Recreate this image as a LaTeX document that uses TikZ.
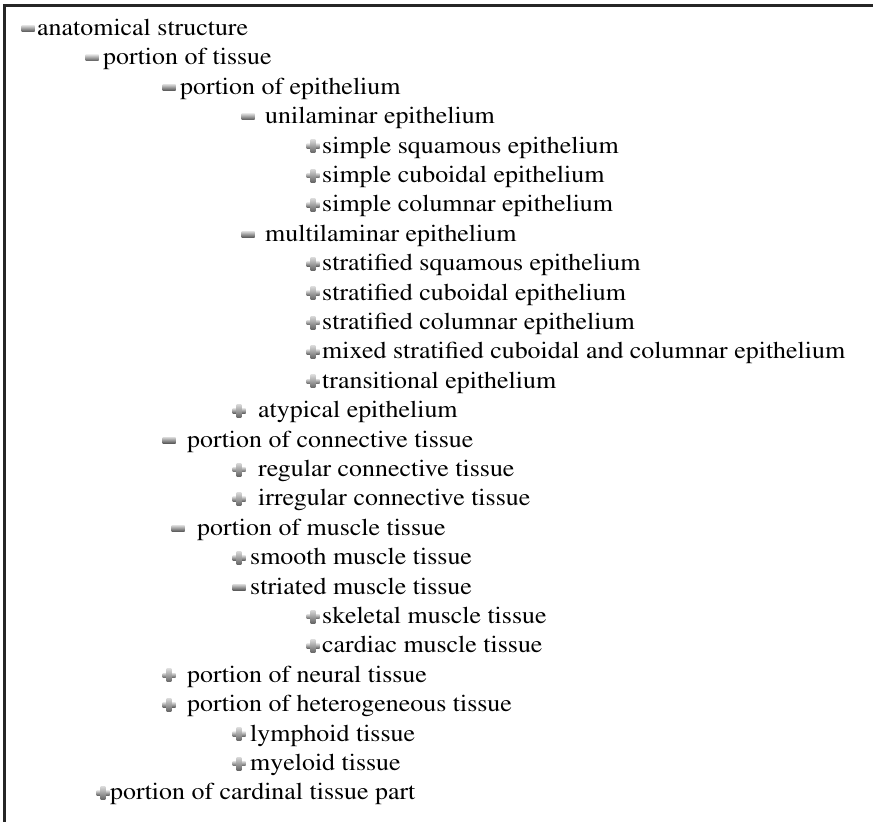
\documentclass[tikz,border=0pt]{standalone}
\usepackage[T1]{fontenc}
\usepackage{times}
\tikzset{
  lbl/.style={anchor=base west, inner sep=0pt, font=\rmfamily\fontsize{24}{28}\selectfont, xscale=1.08, transform shape},
  frameline/.style={line width=3pt, draw=black!85},
  pics/minusicon/.style={code={
    \shade[top color=gray!30, bottom color=black!65] (-6.5,-3) rectangle (6.5,3);}},
  pics/plusicon/.style={code={
    \shade[top color=gray!30, bottom color=black!60] (-6.5,-2.3) rectangle (6.5,2.3);
    \shade[top color=gray!30, bottom color=black!60] (-2.3,-6.5) rectangle (2.3,6.5);}}
}
\begin{document}
\begin{tikzpicture}[x=1pt,y=-1pt]
\useasboundingbox (0,0) rectangle (873,822);
\coordinate (tl) at (4,5);
\coordinate (tr) at (873,5);
\coordinate (bl) at (4,822);
\draw[frameline] (tr) -- (tl) -- (bl);
\foreach \i/\ix/\tx/\t/\s in {
 1/22/37/minus/anatomical structure,
 2/86/103/minus/portion of tissue,
 3/163/180/minus/portion of epithelium,
 4/242/265/minus/unilaminar epithelium,
 5/307/322/plus/simple squamous epithelium,
 6/307/322/plus/simple cuboidal epithelium,
 7/307/322/plus/simple columnar epithelium,
 8/242/265/minus/multilaminar epithelium,
 9/307/322/plus/stratified squamous epithelium,
 10/307/322/plus/stratified cuboidal epithelium,
 11/307/322/plus/stratified columnar epithelium,
 12/307/322/plus/mixed stratified cuboidal and columnar epithelium,
 13/307/322/plus/transitional epithelium,
 14/233/258/plus/atypical epithelium,
 15/163/187/minus/portion of connective tissue,
 16/233/258/plus/regular connective tissue,
 17/233/258/plus/irregular connective tissue,
 18/172/197/minus/portion of muscle tissue,
 19/233/250/plus/smooth muscle tissue,
 20/233/250/minus/striated muscle tissue,
 21/307/322/plus/skeletal muscle tissue,
 22/307/322/plus/cardiac muscle tissue,
 23/163/187/plus/portion of neural tissue,
 24/163/187/plus/portion of heterogeneous tissue,
 25/233/250/plus/lymphoid tissue,
 26/233/250/plus/myeloid tissue,
 27/97/110/plus/portion of cardinal tissue part}{
  \pgfmathsetmacro{\by}{35.5+(\i-1)*29.4}
  \node[lbl] (n\i) at (\tx,\by) {\s};
  \pic (ic\i) at (\ix+6,\by-7) {\t icon};
}
\end{tikzpicture}
\end{document}
